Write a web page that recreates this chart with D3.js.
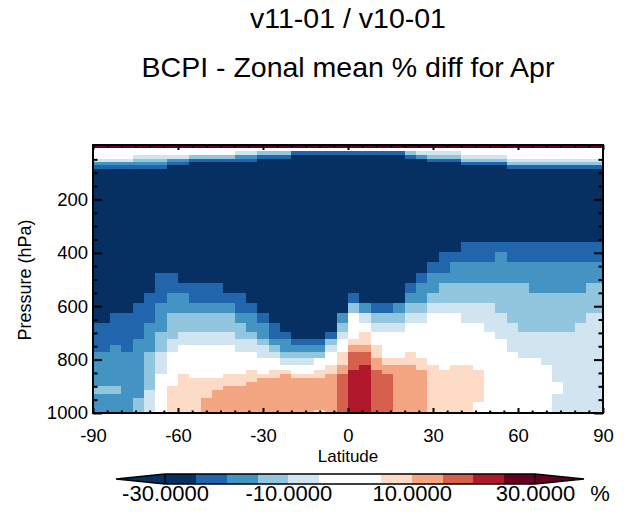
<!DOCTYPE html>
<html>
<head>
<meta charset="utf-8">
<script src="https://cdn.jsdelivr.net/npm/d3@7"></script>
<style>
  body { margin: 0; background: #ffffff; }
  svg { display: block; }
</style>
</head>
<body>
<svg id="chart" width="631" height="514"></svg>
<script>
// ---------------- DATA ----------------
const titleLine1 = "v11-01 / v10-01";
const titleLine2 = "BCPI - Zonal mean % diff for Apr";

// latitude cell edges (46 bands, 4x5 grid)
const latEdges = [-90,-88,-84,-80,-76,-72,-68,-64,-60,-56,-52,-48,-44,-40,-36,-32,-28,-24,-20,-16,-12,-8,-4,
                  0,4,8,12,16,20,24,28,32,36,40,44,48,52,56,60,64,68,72,76,80,84,88,90];

// pressure cell edges (hPa), top to bottom (39 layers)
const pressureEdges = [0,7,20,33,47,60,73,86,100,150,200,250,300,358,396,436,476,513,551,588,626,663,697,722,
                       745,771,794,819,838,854,869,884,899,914,929,944,959,974,989,1000];

// representative % difference of each colour class
const classValue = { N: -35, B: -22.5, M: -17.5, L: -12.5, V: -7.5, W: 0, P: 7.5, S: 12.5, O: 17.5, R: 22.5, D: 35 };

// one vertical profile (top -> bottom, 39 layers) per latitude band, south -> north
const latProfiles = [
  "DWWWVMBN" + "NNNNN" + "NNNNNNNNBBBBMMMMMMMLLMMMMM", // -89
  "DWWWVMBN" + "NNNNN" + "NNNNNNNNBBBBMMMMMMMLLMMMMM", // -86
  "DWWWVMBN" + "NNNNN" + "NNNNNNNBBBBMMMMMMMMLLMMMMM", // -82
  "DWWWVMBN" + "NNNNN" + "NNNNNNNBBBBBMMMMMMMMMMMMMM", // -78
  "DWWVLMBN" + "NNNNN" + "NNNNNNBBBBMMMMMMMMMMMMLLLL", // -74
  "DWWVLMBN" + "NNNNN" + "NNNNNBBBMMMMLLLLLLLLVVVVVV", // -70
  "DWWVLMBN" + "NNNNN" + "NNNBBBMMMLLLVVVVWWWWWWWWWW", // -66
  "DWWVMBNN" + "NNNNN" + "NNNBBMMLLLVVWWWWWWWPPPPPPP", // -62
  "DWWVMBNN" + "NNNNN" + "NNNNBMMLLVVWWWWWPPPPPPPPPP", // -58
  "DWWLBNNN" + "NNNNN" + "NNNNBBMLLVVWWWWWWPPPPPPPPP", // -54
  "DWWLBNNN" + "NNNNN" + "NNNNBBMLLVVWWWWWWPPPPPSSSS", // -50
  "DWWLBNNN" + "NNNNN" + "NNNNBBMLLVVWWWWWWPPPSSSSSS", // -46
  "DWWLBNNN" + "NNNNN" + "NNNNNBMLLVVWWWWWPPPSSSSSSS", // -42
  "DWVMBNNN" + "NNNNN" + "NNNNNBBMLLVVWWWWPPPSSSSSSS", // -38
  "DWVMBNNN" + "NNNNN" + "NNNNNNBMMLVVWWWPPPSSSSSSSS", // -34
  "DWLBNNNN" + "NNNNN" + "NNNNNNNBMMLVVWWWPSSSSSSSSS", // -30
  "DWLBNNNN" + "NNNNN" + "NNNNNNNNBBMLVWWPPSSSSSSSSS", // -26
  "DWLBNNNN" + "NNNNN" + "NNNNNNNNNBMMLVWPSSSSSSSSSS", // -22
  "DWBNNNNN" + "NNNNN" + "NNNNNNNNNNBMLVWWPSSSSSSSSS", // -18
  "DWBNNNNN" + "NNNNN" + "NNNNNNNNNNBMLVWWPSSSSSSSSS", // -14
  "DWBNNNNN" + "NNNNN" + "NNNNNNNNNNBMLWWPPSSSSSSSSP", // -10
  "DWBNNNNN" + "NNNNN" + "NNNNNNNNNBLVWWPPSSSSSSSSSS", // -6
  "DWBNNNNN" + "NNNNN" + "NNNNNNNMLVWWPPSSOOOOOOOOOO", // -2
  "DWBNNNNN" + "NNNNN" + "NNNNNBLWWWPSOOORRRRRRRRRRR", // 2
  "DWBNNNNN" + "NNNNN" + "NNNNNNMVWPPSOORRRRRRRRRRRR", // 6
  "DWBNNNNN" + "NNNNN" + "NNNNNNBLVWWPPSSOOOOOOOOOOO", // 10
  "DWBNNNNN" + "NNNNN" + "NNNNNNBLVWWWWPSSOOOOOOOOOO", // 14
  "DWBNNNNN" + "NNNNN" + "NNNNNNMLVWWWWPSSSSSSSSSSSS", // 18
  "DWLBNNNN" + "NNNNN" + "NNNNBMLVWWWWPPSSSSSSSSSSSS", // 22
  "DWVMNNNN" + "NNNNN" + "NNNBMMLVWWWWWPPSSSSSSSSSSS", // 26
  "DWVLBNNN" + "NNNNN" + "NNBMMLVWWWWWWWPPPPPPPPPPPP", // 30
  "DWVLBNNN" + "NNNNN" + "NBBMLLVWWWWWWWWPPPPPPPPPPP", // 34
  "DWVLBNNN" + "NNNNN" + "NBMMLLVWWWWWWWPPPPPPPPPPPP", // 38
  "DWWVLBNN" + "NNNNN" + "BBMMLLVVWWWWWWPPPPPPPPPPPP", // 42
  "DWWVLBNN" + "NNNNN" + "BBMMLLVVWWWWWWWPPPPPPPPWWW", // 46
  "DWWVLBNN" + "NNNNN" + "BBMMLLVVVWWWWWWWWWWWWWWWWW", // 50
  "DWWVLBNN" + "NNNNN" + "BMMMLLLVVVWWWWWWWWWWWWWWWW", // 54
  "DWWWVLBN" + "NNNNN" + "BBMMLLLLVVVVWWWWWWWWWWWWWW", // 58
  "DWWWVLBN" + "NNNNN" + "BBMMLLLLLVVVVWWWWWWWWWWWWW", // 62
  "DWWWVLBN" + "NNNNN" + "BBMMMLLLLVVVVWWWWWWWWWWWWW", // 66
  "DWWWVLBN" + "NNNNN" + "BBMMMLLLLVVVVVWWWWWWWWWWWW", // 70
  "DWWWVLBN" + "NNNNN" + "BBMMMLLLLVVVVVVVVVWWWVVVVV", // 74
  "DWWWVLBN" + "NNNNN" + "BBMMMLLLLVVVVVVVVVVVVVVVVV", // 78
  "DWWWVLBN" + "NNNNN" + "BBMMMLLLVVVVVVVVVVVVVVVVVV", // 82
  "DWWWVLBN" + "NNNNN" + "BBMMLLLVVVVVVVVVVVVVVVVVVV", // 86
  "DWWWVLBN" + "NNNNN" + "BBMMLLLVVVVVVVVVVVVVVVVVVV"  // 89
];

// contour levels and colours
const levels = [-30,-25,-20,-15,-10,-5,0,5,10,15,20,25,30];
const levelColors = ["#053061","#053061","#2166ac","#4393c3","#92c5de","#d1e5f0","#ffffff",
                     "#ffffff","#fddbc7","#f4a582","#d6604d","#b2182b","#67001f","#67001f"];
const xTickValues = [-90,-60,-30,0,30,60,90];
const yTickValues = [200,400,600,800,1000];
const cbarLabels = [-30,-10,10,30];

// ---------------- DRAW ----------------
const FONT = "'Liberation Sans', Arial, Helvetica, sans-serif";
const svg = d3.select("#chart");

const x = d3.scaleLinear().domain([-90, 90]).range([93, 603]);
const y = d3.scaleLinear().domain([0, 1000]).range([146, 413]);
const color = d3.scaleThreshold().domain(levels).range(levelColors);

latProfiles.forEach((p, i) => { if (p.length !== pressureEdges.length - 1) console.error("profile", i, p.length); });

const cells = [];
latProfiles.forEach((prof, c) => {
  for (let r = 0; r < pressureEdges.length - 1; r++) {
    cells.push({ lat0: latEdges[c], lat1: latEdges[c + 1],
                 p0: pressureEdges[r], p1: pressureEdges[r + 1],
                 v: classValue[prof[r]] });
  }
});

svg.append("g").selectAll("rect").data(cells).join("rect")
  .attr("x", d => x(d.lat0))
  .attr("y", d => y(d.p0))
  .attr("width", d => x(d.lat1) - x(d.lat0))
  .attr("height", d => y(d.p1) - y(d.p0))
  .attr("fill", d => color(d.v))
  .attr("shape-rendering", "crispEdges");

// titles
svg.append("text").attr("x", 348).attr("y", 28).attr("text-anchor", "middle")
  .attr("font-family", FONT).attr("font-size", 28.5).text(titleLine1);
svg.append("text").attr("x", 348).attr("y", 77).attr("text-anchor", "middle")
  .attr("font-family", FONT).attr("font-size", 28.5).text(titleLine2);

// axes
function styleAxis(g) {
  g.select(".domain").remove();
  g.selectAll(".tick line").attr("stroke", "#000").attr("stroke-width", 2);
  g.selectAll(".tick text").attr("font-family", FONT).attr("font-size", 18.5).attr("fill", "#000");
}
svg.append("g").attr("transform", "translate(0,413)")
  .call(d3.axisBottom(x).tickValues(xTickValues).tickSizeInner(-5).tickSizeOuter(0)
        .tickPadding(15.5).tickFormat(d => String(d)))
  .call(styleAxis);
svg.append("g").attr("transform", "translate(0,145)")
  .call(d3.axisTop(x).tickValues(xTickValues).tickSizeInner(-5).tickSizeOuter(0).tickFormat(""))
  .call(styleAxis);
svg.append("g").attr("transform", "translate(93,0)")
  .call(d3.axisLeft(y).tickValues(yTickValues).tickSizeInner(-9).tickSizeOuter(0)
        .tickPadding(5).tickFormat(d => String(d)))
  .call(styleAxis);
svg.append("g").attr("transform", "translate(603,0)")
  .call(d3.axisRight(y).tickValues(yTickValues).tickSizeInner(-9).tickSizeOuter(0).tickFormat(""))
  .call(styleAxis);

// minor ticks
const xMinor = d3.range(-85, 90, 5).filter(d => d % 30 !== 0);
const yMinor = d3.range(50, 1000, 50).filter(d => d % 200 !== 0);
svg.append("g").attr("transform", "translate(0,413)")
  .call(d3.axisBottom(x).tickValues(xMinor).tickSizeInner(-2.5).tickSizeOuter(0).tickFormat(""))
  .call(styleAxis);
svg.append("g").attr("transform", "translate(0,145)")
  .call(d3.axisTop(x).tickValues(xMinor).tickSizeInner(-2.5).tickSizeOuter(0).tickFormat(""))
  .call(styleAxis);
svg.append("g").attr("transform", "translate(93,0)")
  .call(d3.axisLeft(y).tickValues(yMinor).tickSizeInner(-4.5).tickSizeOuter(0).tickFormat(""))
  .call(styleAxis);
svg.append("g").attr("transform", "translate(603,0)")
  .call(d3.axisRight(y).tickValues(yMinor).tickSizeInner(-4.5).tickSizeOuter(0).tickFormat(""))
  .call(styleAxis);

// frame
svg.append("rect").attr("x", 93).attr("y", 145).attr("width", 510).attr("height", 268)
  .attr("fill", "none").attr("stroke", "#000").attr("stroke-width", 2);

// axis titles
svg.append("text").attr("x", 348).attr("y", 462).attr("text-anchor", "middle")
  .attr("font-family", FONT).attr("font-size", 17).text("Latitude");
svg.append("text").attr("transform", "translate(31,280) rotate(-90)").attr("text-anchor", "middle")
  .attr("font-family", FONT).attr("font-size", 18).text("Pressure (hPa)");

// colour bar
const cb = d3.scaleLinear().domain([-30, 30]).range([165, 535]);
const cbTop = 474, cbBot = 484, cbMid = 479;
const segs = d3.pairs(levels);
const cbG = svg.append("g");
cbG.selectAll("rect").data(segs).join("rect")
  .attr("x", d => cb(d[0])).attr("y", cbTop)
  .attr("width", d => cb(d[1]) - cb(d[0])).attr("height", cbBot - cbTop)
  .attr("fill", d => color((d[0] + d[1]) / 2))
  .attr("shape-rendering", "crispEdges");
cbG.append("path").attr("d", `M${cb(-30)},${cbTop}L116,${cbMid}L${cb(-30)},${cbBot}Z`)
  .attr("fill", color(-35));
cbG.append("path").attr("d", `M${cb(30)},${cbTop}L584,${cbMid}L${cb(30)},${cbBot}Z`)
  .attr("fill", color(35));
cbG.append("path")
  .attr("d", `M116,${cbMid}L${cb(-30)},${cbTop}L${cb(30)},${cbTop}L584,${cbMid}L${cb(30)},${cbBot}L${cb(-30)},${cbBot}Z`)
  .attr("fill", "none").attr("stroke", "#000").attr("stroke-width", 1.5);
cbG.append("line").attr("x1", cb(-30)).attr("x2", cb(-30)).attr("y1", cbTop).attr("y2", cbBot)
  .attr("stroke", "#000").attr("stroke-width", 1.5);
cbG.append("line").attr("x1", cb(30)).attr("x2", cb(30)).attr("y1", cbTop).attr("y2", cbBot)
  .attr("stroke", "#000").attr("stroke-width", 1.5);

const cbAxis = svg.append("g").attr("transform", `translate(0,${cbBot})`)
  .call(d3.axisBottom(cb).tickValues(cbarLabels).tickSize(0).tickPadding(1)
        .tickFormat(d => d.toFixed(4)));
cbAxis.select(".domain").remove();
cbAxis.selectAll(".tick text").attr("font-family", FONT).attr("font-size", 22).attr("fill", "#000");
svg.append("text").attr("x", 600).attr("y", 501).attr("text-anchor", "middle")
  .attr("font-family", FONT).attr("font-size", 22).text("%");
</script>
</body>
</html>
